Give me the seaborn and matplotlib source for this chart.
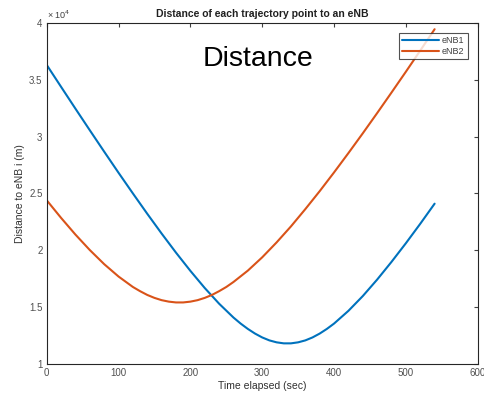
import numpy as np
import pandas as pd
import seaborn as sns
import matplotlib
matplotlib.use("Agg")
import matplotlib.pyplot as plt

# time (sec) and distance (m), denser near the minima
time_enb1 = [0, 20, 40, 60, 80, 100, 120, 140, 160, 180, 200, 220, 240, 260,
             270, 280, 290, 300, 310, 320, 330, 340, 350, 360, 370, 380, 390,
             400, 420, 440, 460, 480, 500, 520, 540]
enb1_dist = [36310, 34380, 32460, 30560, 28680, 26820, 25000, 23210, 21470,
             19790, 18190, 16680, 15300, 14080, 13550, 13080, 12670, 12330,
             12070, 11900, 11810, 11810, 11900, 12070, 12330, 12670, 13080,
             13550, 14670, 15970, 17420, 18980, 20620, 22330, 24100]
time_enb2 = [0, 20, 40, 60, 80, 100, 120, 130, 140, 150, 160, 170, 180, 190,
             200, 210, 220, 230, 240, 250, 260, 280, 300, 320, 340, 360, 380,
             400, 420, 440, 460, 480, 500, 520, 540]
enb2_dist = [24400, 22850, 21380, 20020, 18780, 17690, 16770, 16400, 16070,
             15810, 15610, 15480, 15410, 15410, 15480, 15610, 15810, 16070,
             16400, 16770, 17210, 18210, 19380, 20690, 22100, 23620, 25200,
             26850, 28550, 30290, 32070, 33880, 35710, 37570, 39450]
series_names = ["eNB1", "eNB2"]

df = pd.DataFrame({
    "t": time_enb1 + time_enb2,
    "d": [v / 1e4 for v in enb1_dist + enb2_dist],
    "name": [series_names[0]] * len(time_enb1) + [series_names[1]] * len(time_enb2),
})

sns.set_style("white")
plt.rcParams["font.family"] = ["Liberation Sans", "DejaVu Sans"]

fig = plt.figure(figsize=(4.84, 3.96), dpi=100)
ax = fig.add_axes([0.0965, 0.081, 0.8905, 0.861])

sns.lineplot(data=df, x="t", y="d", hue="name",
             palette=["#0072BD", "#D95319"], linewidth=1.5, ax=ax)

ax.set_xlim(0, 600)
ax.set_ylim(1, 4)
ax.set_xticks(range(0, 601, 100))
ax.set_yticks(np.arange(1, 4.01, 0.5))
ax.set_yticklabels(["1", "1.5", "2", "2.5", "3", "3.5", "4"])

ax.tick_params(direction="in", length=3, width=0.8, top=True, right=True,
               labelsize=7, colors="#404040", labelcolor="#505050", pad=3)
for s in ax.spines.values():
    s.set_color("#262626")
    s.set_linewidth(0.8)

ax.set_xlabel("Time elapsed (sec)", fontsize=7.5, color="#303030", labelpad=2)
ax.set_ylabel("Distance to eNB i (m)", fontsize=7.5, color="#303030", labelpad=3)
ax.set_title("Distance of each trajectory point to an eNB", fontsize=7.5,
             fontweight="bold", color="#202020", pad=4)
ax.text(0.0, 1.005, "× 10$^4$", transform=ax.transAxes, fontsize=6.5,
        color="#404040", ha="left", va="bottom")
ax.text(0.49, 0.895, "Distance", transform=ax.transAxes, fontsize=20.5,
        color="black", ha="center", va="center")

leg = ax.legend(loc="upper right", fontsize=6.5, frameon=True, fancybox=False,
                handlelength=4.0, borderpad=0.35, labelspacing=0.25,
                handletextpad=0.4, borderaxespad=1.1)
leg.get_frame().set_edgecolor("#262626")
leg.get_frame().set_linewidth(0.8)
for t in leg.get_texts():
    t.set_color("#404040")

fig.savefig("out.png", dpi=100)
